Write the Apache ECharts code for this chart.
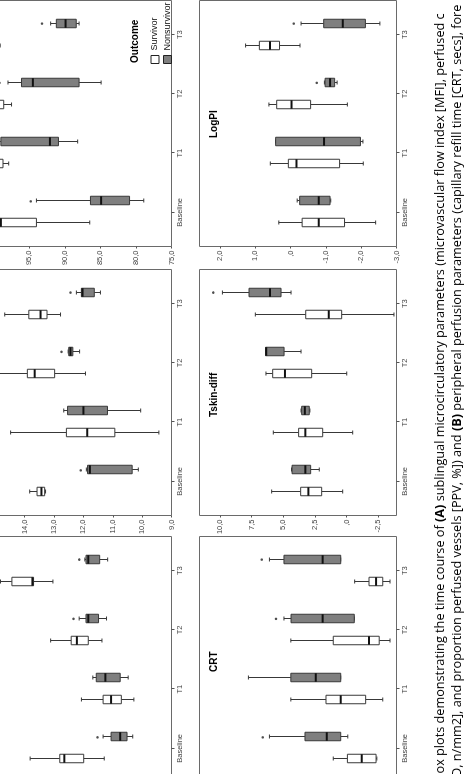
<!DOCTYPE html>
<html>
<head>
<meta charset="utf-8">
<script src="https://cdn.jsdelivr.net/npm/echarts@6/dist/echarts.min.js"></script>
<style>
  html, body { margin: 0; padding: 0; background: #fff; overflow: hidden; }
  /* the page is drawn upright and turned a quarter left, like the scanned figure */
  #page {
    position: absolute; left: 0; top: 0;
    width: 774px; height: 466px;
    transform-origin: 0 0;
    transform: translate(0, 774px) rotate(-90deg);
  }
</style>
</head>
<body>
<div id="page"></div>
<script>
var timePoints = ['Baseline', 'T1', 'T2', 'T3'];

// every box: [min, Q1, median, Q3, max] for Baseline, T1, T2, T3
var mfiSurvivor = [[2.09, 2.27, 2.44, 2.48, 2.74], [1.83, 1.94, 2.03, 2.10, 2.29], [2.11, 2.23, 2.33, 2.38, 2.56], [2.54, 2.71, 2.72, 2.90, 3.00]];
var mfiNonsurvivor = [[1.84, 1.89, 1.95, 2.03, 2.10], [1.88, 1.95, 2.08, 2.16, 2.19], [2.07, 2.14, 2.23, 2.25, 2.31], [2.06, 2.13, 2.23, 2.25, 2.26]];
var mfiOutliers = [[0, 2.15], [2, 2.36], [3, 2.31]];
var mfiTicks = [1.5, 2.0, 2.5, 3.0];

var pcdSurvivor = [[13.29, 13.32, 13.43, 13.58, 13.83], [9.43, 10.93, 11.87, 12.58, 14.48], [11.93, 12.98, 13.66, 13.91, 15.0], [12.78, 13.24, 13.46, 13.86, 14.68]];
var pcdNonsurvivor = [[10.13, 10.34, 11.78, 11.86, 11.9], [10.05, 11.18, 12.0, 12.54, 12.67], [12.13, 12.36, 12.44, 12.5, 12.52], [11.42, 11.63, 12.03, 12.07, 12.24]];
var pcdOutliers = [[0, 12.09], [2, 12.75], [3, 12.44]];
var pcdTicks = [9, 10, 11, 12, 13, 14, 15];

var ppvSurvivor = [[86.5, 94.0, 99.0, 100, 100], [97.9, 98.7, 99.5, 100, 100], [97.5, 98.6, 99.5, 100, 100], [99.1, 99.6, 100, 100, 100]];
var ppvNonsurvivor = [[78.9, 80.9, 84.9, 86.4, 94.0], [88.2, 90.9, 92.1, 99.0, 99.5], [84.9, 88.0, 94.5, 96.1, 98.0], [88.0, 88.4, 89.9, 91.2, 92.0]];
var ppvOutliers = [[0, 94.8], [2, 99.2], [3, 93.2]];
var ppvTicks = [75, 80, 85, 90, 95, 100];

var crtSurvivor = [[1.0, 1.04, 1.77, 2.50, 3.22], [0.70, 1.57, 2.84, 3.59, 5.38], [0.33, 0.88, 1.40, 3.22, 5.38], [0.33, 0.70, 1.04, 1.40, 2.13]];
var crtNonsurvivor = [[2.48, 2.84, 3.55, 4.66, 6.47], [2.84, 2.84, 4.11, 5.38, 7.54], [2.15, 2.15, 3.76, 5.37, 5.73], [2.84, 2.84, 3.76, 5.73, 6.47]];
var crtOutliers = [[0, 6.81], [2, 6.13], [3, 6.86]];
var crtTicks = [0, 2, 4, 6, 8, 10];

var tskinSurvivor = [[0.31, 1.97, 3.02, 3.63, 5.92], [-0.48, 1.89, 3.26, 3.79, 5.79], [-0.01, 2.76, 4.87, 5.84, 6.37], [-3.74, 0.39, 1.41, 3.23, 7.21]];
var tskinNonsurvivor = [[2.16, 2.84, 3.26, 4.31, 4.35], [2.9, 2.95, 3.3, 3.55, 3.6], [3.6, 4.94, 6.35, 6.4, 6.4], [4.39, 5.18, 6.05, 7.71, 9.81]];
var tskinOutliers = [[3, 10.53]];
var tskinTicks = [-2.5, 0, 2.5, 5, 7.5, 10];

var logpiSurvivor = [[-2.41, -1.53, -0.80, -0.33, 0.33], [-2.06, -1.39, -0.17, 0.06, 0.57], [-1.61, -0.57, -0.03, 0.39, 0.61], [-0.27, 0.31, 0.58, 0.88, 1.27]];
var logpiNonsurvivor = [[-1.14, -1.12, -0.80, -0.26, -0.19], [-2.05, -1.98, -0.95, 0.42, 0.42], [-1.32, -1.25, -1.12, -0.98, -0.96], [-2.53, -2.12, -1.48, -0.94, -0.30]];
var logpiOutliers = [[2, -0.74], [3, -0.09]];
var logpiTicks = [-3, -2, -1, 0, 1, 2];

var captionLine1 = ['ox plots demonstrating the time course of ', '(A)', ' sublingual microcirculatory parameters (microvascular flow index [MFI], perfused c'];
var captionLine2 = ['D, n/mm2], and proportion perfused vessels [PPV, %]) and ', '(B)', ' peripheral perfusion parameters (capillary refill time [CRT, secs], fore'];

// panel frames: left/top of the frame, the value range that spans its height
var panels = [
  { surv: mfiSurvivor, non: mfiNonsurvivor, out: mfiOutliers, ticks: mfiTicks, min: 1.5, max: 3.228, left: -8.5, top: -25.5 },
  { surv: pcdSurvivor, non: pcdNonsurvivor, out: pcdOutliers, ticks: pcdTicks, min: 9, max: 15.71, left: 258.5, top: -25.5 },
  { surv: ppvSurvivor, non: ppvNonsurvivor, out: ppvOutliers, ticks: ppvTicks, min: 75, max: 102.71, left: 527.5, top: -25.5 },
  { surv: crtSurvivor, non: crtNonsurvivor, out: crtOutliers, ticks: crtTicks, min: 0, max: 10.03, left: -8.5, top: 199.5, title: 'CRT', tx: 102 },
  { surv: tskinSurvivor, non: tskinNonsurvivor, out: tskinOutliers, ticks: tskinTicks, min: -3.94, max: 11.62, left: 258.5, top: 199.5, title: 'Tskin-diff', tx: 357 },
  { surv: logpiSurvivor, non: logpiNonsurvivor, out: logpiOutliers, ticks: logpiTicks, min: -3, max: 2.574, left: 527.5, top: 199.5, title: 'LogPI', tx: 636 }
];

var FRAME_W = 246, FRAME_H = 197, INSET = 4.5;
var SHIFT = 11;
var LINE = '#383838';
var GREY = '#7f7f7f';
var AXIS_FONT = '"Liberation Sans", Arial, sans-serif';

function commaLabel(v) {
  var s = v.toFixed(1).replace('.', ',');
  return s.replace(/^0,/, ',').replace(/^-0,/, '-,');
}

function boxItem(shift, fill) {
  return function (params, api) {
    var cat = api.value(0);
    var p = [1, 2, 3, 4, 5].map(function (i) { return api.coord([cat, api.value(i)]); });
    var x = Math.round(p[0][0] + shift) + 0.5;
    var w = 8.5, cap = 2;
    var st = { stroke: LINE, lineWidth: 1 };
    return {
      type: 'group',
      children: [
        { type: 'line', shape: { x1: x, y1: p[4][1], x2: x, y2: p[3][1] }, style: st },
        { type: 'line', shape: { x1: x, y1: p[1][1], x2: x, y2: p[0][1] }, style: st },
        { type: 'line', shape: { x1: x - cap, y1: p[4][1], x2: x + cap, y2: p[4][1] }, style: st },
        { type: 'line', shape: { x1: x - cap, y1: p[0][1], x2: x + cap, y2: p[0][1] }, style: st },
        { type: 'rect', shape: { x: x - w / 2, y: p[3][1], width: w, height: Math.max(p[1][1] - p[3][1], 1) },
          style: { fill: fill, stroke: LINE, lineWidth: 1 } },
        { type: 'line', shape: { x1: x - w / 2, y1: p[2][1], x2: x + w / 2, y2: p[2][1] },
          style: { stroke: '#111', lineWidth: 2 } }
      ]
    };
  };
}

var grids = [], xAxes = [], yAxes = [], series = [], graphics = [];

panels.forEach(function (p, i) {
  grids.push({
    left: p.left + INSET, top: p.top, width: FRAME_W - 2 * INSET, height: FRAME_H,
    outerBoundsMode: 'none', containLabel: false
  });
  xAxes.push({
    type: 'category', gridIndex: i, data: timePoints, position: 'bottom',
    axisLine: { show: false, onZero: false },
    axisTick: { show: true, alignWithLabel: true, length: 3, lineStyle: { color: '#555' } },
    axisLabel: { fontSize: 7.5, color: '#444', margin: 4, fontFamily: AXIS_FONT },
    splitLine: { show: false }
  });
  yAxes.push({
    type: 'value', gridIndex: i, min: p.min, max: p.max, position: 'left', offset: INSET,
    axisLine: { show: false, onZero: false },
    axisTick: { show: true, length: 2, customValues: p.ticks, lineStyle: { color: '#555' } },
    axisLabel: { customValues: p.ticks, formatter: commaLabel, fontSize: 7.5, color: '#444', margin: 4, fontFamily: AXIS_FONT },
    splitLine: { show: false }
  });
  series.push({
    type: 'custom', name: 'Survivor', xAxisIndex: i, yAxisIndex: i, silent: true,
    renderItem: boxItem(-SHIFT, '#ffffff'),
    encode: { x: 0, y: [1, 2, 3, 4, 5] },
    itemStyle: { color: '#ffffff', borderColor: LINE },
    data: p.surv.map(function (b, j) { return [j].concat(b); })
  });
  series.push({
    type: 'custom', name: 'Nonsurvivor', xAxisIndex: i, yAxisIndex: i, silent: true,
    renderItem: boxItem(SHIFT, GREY),
    encode: { x: 0, y: [1, 2, 3, 4, 5] },
    itemStyle: { color: GREY, borderColor: LINE },
    data: p.non.map(function (b, j) { return [j].concat(b); })
  });
  series.push({
    type: 'scatter', name: 'outliers', xAxisIndex: i, yAxisIndex: i, silent: true,
    symbol: 'circle', symbolSize: 2.5, symbolOffset: [SHIFT, 0],
    itemStyle: { color: '#222' },
    data: p.out
  });
  graphics.push({
    type: 'rect', silent: true,
    shape: { x: p.left, y: p.top, width: FRAME_W, height: FRAME_H },
    style: { fill: 'none', stroke: '#6a6a6a', lineWidth: 1 }
  });
  if (p.title) {
    graphics.push({
      type: 'text', x: p.tx, y: 214, silent: true,
      style: { text: p.title, font: 'bold 10px "Liberation Sans", Arial, sans-serif', fill: '#000', verticalAlign: 'middle' }
    });
  }
});

graphics.push({
  type: 'text', x: 711, y: 135, silent: true,
  style: { text: 'Outcome', font: 'bold 10px "Liberation Sans", Arial, sans-serif', fill: '#000', verticalAlign: 'middle' }
});

function captionText(parts, y, x) {
  return {
    type: 'text', x: x, y: y, silent: true,
    style: {
      text: '{n|' + parts[0] + '}{b|' + parts[1] + '}{n|' + parts[2] + '}',
      verticalAlign: 'middle',
      rich: {
        n: { fontFamily: '"Open Sans"', fontSize: 12.7, color: '#3a3a3a' },
        b: { fontFamily: '"Open Sans"', fontSize: 12.7, fontWeight: 'bold', color: '#222' }
      }
    }
  };
}
graphics.push(captionText(captionLine1, 440.5, 0.5));
graphics.push(captionText(captionLine2, 457.5, -3));

var myChart = echarts.init(document.getElementById('page'));
myChart.setOption({
  animation: false,
  backgroundColor: '#ffffff',
  grid: grids,
  xAxis: xAxes,
  yAxis: yAxes,
  legend: {
    orient: 'vertical', left: 705, top: 145.5,
    itemWidth: 8, itemHeight: 8, itemGap: 3.5, selectedMode: false,
    textStyle: { fontSize: 9, color: '#111', fontFamily: AXIS_FONT, lineHeight: 9 },
    data: [
      { name: 'Survivor', icon: 'rect', itemStyle: { color: '#ffffff', borderColor: '#222', borderWidth: 1 } },
      { name: 'Nonsurvivor', icon: 'rect', itemStyle: { color: GREY, borderColor: '#222', borderWidth: 1 } }
    ]
  },
  graphic: graphics,
  series: series
});

window.addEventListener('resize', function () {
  myChart.resize();
});
</script>
</body>
</html>
